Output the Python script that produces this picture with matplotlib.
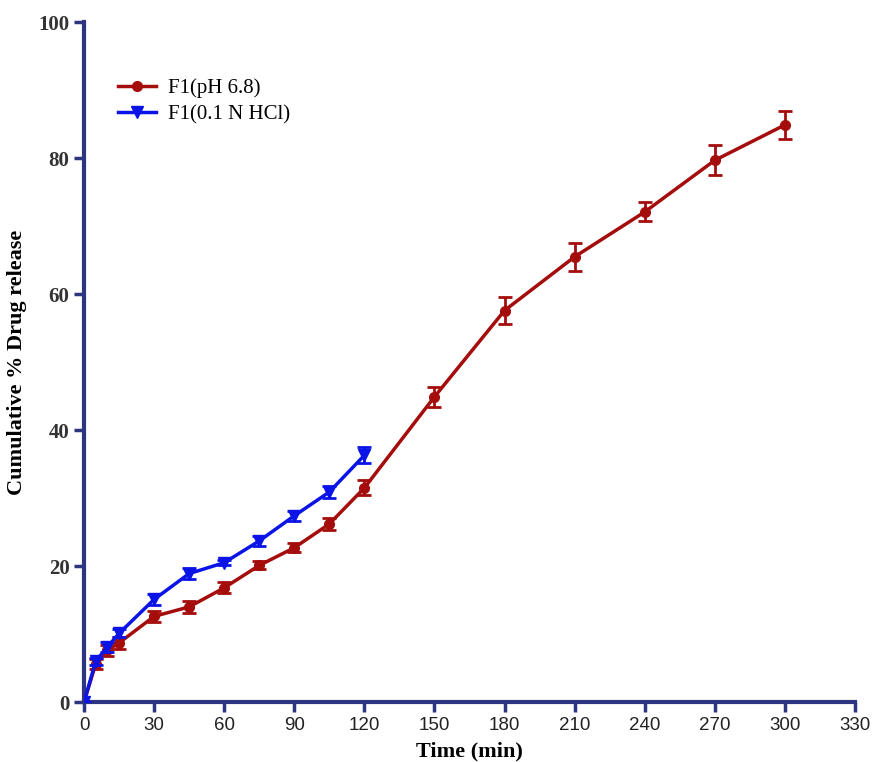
import matplotlib.pyplot as plt
from matplotlib.lines import Line2D

# ===============================
# Data
# ===============================
time_ph68 = [0, 5, 10, 15, 30, 45, 60, 75, 90, 105, 120, 150, 180, 210, 240, 270, 300]
release_ph68 = [0, 5.6, 7.6, 8.7, 12.6, 14.0, 16.8, 20.1, 22.7, 26.2, 31.5,
                44.9, 57.6, 65.5, 72.1, 79.7, 84.9]
err_ph68 = [0, 0.8, 0.8, 0.9, 0.8, 0.9, 0.8, 0.6, 0.7, 0.9, 1.1,
            1.5, 2.0, 2.1, 1.4, 2.2, 2.0]

time_hcl = [0, 5, 10, 15, 30, 45, 60, 75, 90, 105, 120]
release_hcl = [0, 6.0, 8.1, 10.1, 15.1, 18.9, 20.5, 23.7, 27.4, 30.9, 36.3]
err_hcl = [0, 0.5, 0.7, 0.6, 0.8, 0.8, 0.4, 0.7, 0.7, 0.9, 1.2]

x_ticks = list(range(0, 331, 30))
y_ticks = [0, 20, 40, 60, 80, 100]

RED = "#a50d0d"
BLUE = "#0a14e6"
AXIS = "#2e3580"

fig = plt.figure(figsize=(8.79, 7.62), dpi=100)
ax = fig.add_axes([0.0956, 0.0787, 0.877, 0.892])

ax.errorbar(time_ph68, release_ph68, yerr=err_ph68, color=RED, marker="o",
            markersize=7, linewidth=2.5, capsize=5, capthick=2, elinewidth=2,
            zorder=3)
ax.errorbar(time_hcl, release_hcl, yerr=err_hcl, color=BLUE, marker="v",
            markersize=8, linewidth=2.5, capsize=5, capthick=2, elinewidth=2,
            zorder=4)

ax.set_xlim(0, 330)
ax.set_ylim(0, 100)
ax.set_xticks(x_ticks)
ax.set_yticks(y_ticks)

for side in ["top", "right"]:
    ax.spines[side].set_visible(False)
for side in ["left", "bottom"]:
    ax.spines[side].set_color(AXIS)
    ax.spines[side].set_linewidth(3)
ax.tick_params(axis="both", direction="out", length=7, width=2.5, color=AXIS)
ax.tick_params(axis="x", pad=4)

ax.set_xticklabels([str(t) for t in x_ticks], family="Liberation Sans",
                   fontsize=13.5, color="#222222")
ax.set_yticklabels([str(t) for t in y_ticks], family="Liberation Serif",
                   fontweight="bold", fontsize=15, color="#333333")

ax.set_xlabel("Time (min)", family="Liberation Serif", fontweight="bold",
              fontsize=16, labelpad=5)
ax.set_ylabel("Cumulative % Drug release", family="Liberation Serif",
              fontweight="bold", fontsize=16, labelpad=8)

handles = [
    Line2D([], [], color=RED, marker="o", markersize=7, linewidth=2.5),
    Line2D([], [], color=BLUE, marker="v", markersize=8, linewidth=2.5),
]
ax.legend(handles, ["F1(pH 6.8)", "F1(0.1 N HCl)"], loc="upper left",
          bbox_to_anchor=(0.02, 0.945), frameon=False,
          prop={"family": "Liberation Serif", "size": 15},
          handlelength=1.8, handletextpad=0.6, labelspacing=0.3)

plt.savefig("out.png", dpi=100)
plt.close()
